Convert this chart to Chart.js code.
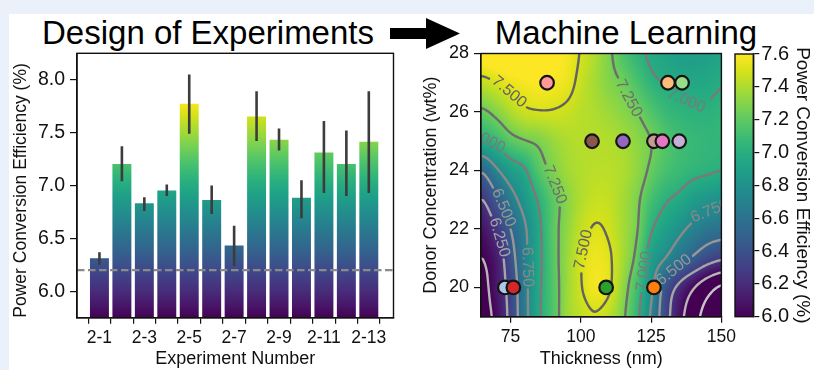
<!DOCTYPE html>
<html><head><meta charset="utf-8">
<script src="https://cdn.jsdelivr.net/npm/chart.js@4.4.1/dist/chart.umd.min.js"></script>
<style>
html,body{margin:0;padding:0;background:#eaf1fa;}
#wrap{position:relative;width:814px;height:370px;overflow:hidden;background:#eaf1fa;}
#panel{position:absolute;left:9px;top:14px;width:805px;height:356px;background:#fff;}
canvas{position:absolute;top:0;}
.ttl{position:absolute;top:16px;font-family:"Liberation Sans",Arial,sans-serif;font-size:33px;line-height:33px;color:#000;white-space:nowrap;transform:translateX(-50%);}
svg{position:absolute;left:0;top:0;}
</style></head>
<body><div id="wrap">
<div id="panel"></div>
<div class="ttl" style="left:208px">Design of Experiments</div>
<div class="ttl" style="left:626px">Machine Learning</div>
<svg width="814" height="60"><polygon points="390,28 426,28 426,18 460,33.5 426,49 426,39 390,39" fill="#000"/></svg>
<canvas id="c1" width="410" height="370" style="left:0;width:410px;height:370px"></canvas>
<canvas id="c2" width="340" height="370" style="left:400px;width:340px;height:370px"></canvas>
<canvas id="c3" width="84" height="370" style="left:730px;width:84px;height:370px"></canvas>
</div>
<script>
// ---------- data: bar chart ----------
const EXPERIMENTS = ['2-1','2-2','2-3','2-4','2-5','2-6','2-7','2-8','2-9','2-10','2-11','2-12','2-13'];
const PCE_MEAN = [6.31,7.20,6.83,6.95,7.77,6.86,6.43,7.65,7.43,6.88,7.31,7.20,7.41];
const PCE_LOW  = [6.25,7.04,6.76,6.90,7.49,6.73,6.24,7.42,7.33,6.69,6.93,6.90,6.93];
const PCE_HIGH = [6.37,7.37,6.89,7.01,8.05,7.00,6.62,7.89,7.54,7.05,7.61,7.52,7.89];
const PCE_REFERENCE = 6.2;
const BAR_Y_TICKS = [6.0,6.5,7.0,7.5,8.0];
const BAR_Y_MIN = 5.75, BAR_Y_MAX = 8.25;
const BAR_CMAP_MIN = 5.75, BAR_CMAP_MAX = 7.8;

// ---------- data: surrogate model map ----------
const GRID_X = [65,70,75,80,85,90,95,100,105,110,115,120,125,130,135,140,145,150];
const GRID_Y = [28,27,26,25,24,23,22,21,20,19];
const PCE_GRID = [
 [7.65,7.68,7.70,7.70,7.68,7.62,7.58,7.49,7.40,7.28,7.15,7.05,6.97,6.92,6.89,6.88,6.90,6.93],
 [7.45,7.50,7.55,7.58,7.60,7.58,7.55,7.46,7.38,7.30,7.24,7.14,7.04,6.99,6.96,6.95,6.96,6.99],
 [7.22,7.30,7.40,7.47,7.49,7.49,7.47,7.43,7.40,7.36,7.31,7.25,7.16,7.08,7.04,7.02,7.02,7.04],
 [6.97,7.06,7.18,7.24,7.28,7.35,7.40,7.42,7.42,7.41,7.38,7.32,7.25,7.16,7.10,7.07,7.05,7.05],
 [6.53,6.72,6.88,6.98,7.17,7.28,7.37,7.41,7.43,7.43,7.40,7.33,7.22,7.13,7.08,7.04,7.02,7.00],
 [6.25,6.45,6.66,6.84,7.02,7.19,7.31,7.41,7.46,7.45,7.38,7.28,7.12,7.02,6.96,6.88,6.83,6.80],
 [6.08,6.25,6.50,6.72,6.96,7.18,7.33,7.45,7.51,7.48,7.38,7.26,7.02,6.90,6.80,6.70,6.63,6.60],
 [6.00,6.12,6.40,6.70,6.95,7.17,7.35,7.49,7.56,7.52,7.38,7.20,6.90,6.75,6.60,6.47,6.35,6.28],
 [5.95,6.10,6.34,6.68,6.96,7.16,7.35,7.49,7.57,7.52,7.33,7.10,6.80,6.42,6.20,6.02,5.85,5.72],
 [5.95,6.05,6.32,6.67,6.97,7.15,7.36,7.44,7.49,7.43,7.28,7.05,6.72,6.35,6.08,5.85,5.65,5.50]
];
const HEAT_X_MIN = 64.5, HEAT_X_MAX = 150, HEAT_Y_MIN = 19, HEAT_Y_MAX = 28;
const HEAT_X_TICKS = [75,100,125,150];
const HEAT_Y_TICKS = [20,22,24,26,28];
const CONTOUR_LEVELS = [5.5,5.75,6.0,6.25,6.5,6.75,7.0,7.25,7.5];
const CONTOUR_COLORS = ['#d4d4d4','#c6c6c6','#b6b6b6','#a6a6a6','#979797','#898989','#7a7a7a','#6d6d6d','#626262'];
const LABEL_LEVEL = [7.5,7.25,7.0,7.0,7.25,6.5,6.25,6.75,7.5,7.0,6.5,6.75];
const LABEL_X     = [75.0,117.6,137.7,66.8,92.9,73.4,70.8,80.9,100.9,122.2,133.5,145.5];
const LABEL_Y     = [26.75,26.5,26.46,25.1,23.6,22.76,21.7,20.7,21.3,20.56,20.55,22.7];
const POINT_X = [88,131,136,104,115,126,129,135,73,76,109,126];
const POINT_Y = [27,27,27,25,25,25,25,25,20,20,20,20];
const POINT_COLORS = ['#ff9896','#ffbb78','#98df8a','#8c564b','#9467bd','#c49c94','#e377c2','#c5b0d5','#aec7e8','#d62728','#2ca02c','#ff7f0e'];
const CB_MIN = 6.0, CB_MAX = 7.6;
const CB_TICKS = [6.0,6.2,6.4,6.6,6.8,7.0,7.2,7.4,7.6];

const VIRIDIS = ['#440154','#48186a','#472d7b','#424086','#3b528b','#33638d','#2c728e','#26828e','#21918c','#1fa088','#28ae80','#3fbc73','#5ec962','#84d44b','#addc30','#d8e219','#fde725'];
const VRGB = VIRIDIS.map(h=>[parseInt(h.slice(1,3),16),parseInt(h.slice(3,5),16),parseInt(h.slice(5,7),16)]);
function viridis(t){t=Math.max(0,Math.min(1,t));const f=t*(VRGB.length-1);const i=Math.min(VRGB.length-2,Math.floor(f));const u=f-i;const a=VRGB[i],b=VRGB[i+1];return [a[0]+(b[0]-a[0])*u,a[1]+(b[1]-a[1])*u,a[2]+(b[2]-a[2])*u];}

const FONT = '"Liberation Sans", Arial, sans-serif';
Chart.defaults.font.family = FONT;
Chart.defaults.color = '#000';
Chart.defaults.animation = false;

function cr(p0,p1,p2,p3,t){return 0.5*(2*p1+(-p0+p2)*t+(2*p0-5*p1+4*p2-p3)*t*t+(-p0+3*p1-3*p2+p3)*t*t*t);}
function field(xv,yv){
  const nx=GRID_X.length, ny=GRID_Y.length;
  let gx=(xv-GRID_X[0])/(GRID_X[1]-GRID_X[0]);
  let gy=(GRID_Y[0]-yv)/(GRID_Y[0]-GRID_Y[1]);
  gx=Math.max(0,Math.min(nx-1.0001,gx)); gy=Math.max(0,Math.min(ny-1.0001,gy));
  const i=Math.floor(gx), j=Math.floor(gy), tx=gx-i, ty=gy-j;
  const g=(r,c)=>PCE_GRID[Math.max(0,Math.min(ny-1,r))][Math.max(0,Math.min(nx-1,c))];
  const rows=[];
  for(let r=-1;r<=2;r++) rows.push(cr(g(j+r,i-1),g(j+r,i),g(j+r,i+1),g(j+r,i+2),tx));
  return cr(rows[0],rows[1],rows[2],rows[3],ty);
}

const boxPlugin = {id:'box', afterDraw(chart){const {ctx,chartArea:a}=chart;ctx.save();ctx.strokeStyle='#111';ctx.lineWidth=1.4;ctx.strokeRect(a.left,a.top,a.right-a.left,a.bottom-a.top);ctx.restore();}};

function fixedTicks(arr){return function(scale){scale.ticks = arr.map(v=>({value:v}));};}

// ---------- chart 1: bars ----------
let barGrad=null;
const errPlugin = {id:'err', afterDatasetsDraw(chart){
  const {ctx,chartArea:a,scales:{x,y}}=chart;
  ctx.save();
  ctx.beginPath();ctx.rect(a.left,a.top,a.right-a.left,a.bottom-a.top);ctx.clip();
  const yr=y.getPixelForValue(PCE_REFERENCE);
  ctx.strokeStyle='#8a8a8a';ctx.lineWidth=2.2;ctx.setLineDash([7.5,3.5]);
  ctx.beginPath();ctx.moveTo(a.left,yr);ctx.lineTo(a.right,yr);ctx.stroke();
  ctx.setLineDash([]);
  ctx.strokeStyle='#3c3c3c';ctx.lineWidth=2.6;
  PCE_MEAN.forEach((m,i)=>{const px=x.getPixelForValue(i);ctx.beginPath();ctx.moveTo(px,y.getPixelForValue(PCE_LOW[i]));ctx.lineTo(px,y.getPixelForValue(PCE_HIGH[i]));ctx.stroke();});
  ctx.restore();
}};
new Chart(document.getElementById('c1'),{
  type:'bar',
  data:{datasets:[{data:PCE_MEAN.map((v,i)=>({x:i,y:v})),base:BAR_Y_MIN,barThickness:18.3,borderWidth:0,
    backgroundColor(c){const ch=c.chart;if(!ch.chartArea)return '#21918c';if(!barGrad){const ys=ch.scales.y;barGrad=ch.ctx.createLinearGradient(0,ys.getPixelForValue(BAR_CMAP_MIN),0,ys.getPixelForValue(BAR_CMAP_MAX));VIRIDIS.forEach((col,k)=>barGrad.addColorStop(k/(VIRIDIS.length-1),col));}return barGrad;}}]},
  options:{responsive:false,events:[],layout:{padding:{left:4,right:16.5,top:53.3,bottom:2}},
    plugins:{legend:{display:false},tooltip:{enabled:false}},
    scales:{
      x:{type:'linear',min:-1,max:13.1,offset:false,afterBuildTicks:fixedTicks(EXPERIMENTS.map((e,i)=>i)),afterFit(s){s.height=50.3;},
        grid:{drawOnChartArea:false,drawTicks:true,tickLength:6,color:'#111',lineWidth:1.2},border:{display:true,color:'#111',width:1.4},
        ticks:{autoSkip:false,maxRotation:0,padding:4,font:{size:17.5},color:'#111',callback:(v)=>(v%2===0?EXPERIMENTS[v]:'')},
        title:{display:true,text:'Experiment Number',font:{size:18,lineHeight:1},padding:{top:0,bottom:0},color:'#111'}},
      y:{min:BAR_Y_MIN,max:BAR_Y_MAX,afterBuildTicks:fixedTicks(BAR_Y_TICKS),afterFit(s){s.width=73;},
        grid:{drawOnChartArea:false,drawTicks:true,tickLength:7,color:'#111',lineWidth:1.2},border:{display:true,color:'#111',width:1.4},
        ticks:{padding:5,font:{size:19.5},color:'#111',callback:v=>v.toFixed(1)},
        title:{display:true,text:'Power Conversion Efficiency (%)',align:'start',font:{size:17.5,lineHeight:1},padding:{top:8,bottom:0},color:'#111'}}
    }},
  plugins:[errPlugin,boxPlugin]
});

// ---------- chart 2: map ----------
const heatPlugin = {id:'heat', beforeDatasetsDraw(chart){
  const {ctx,chartArea:a,scales:{x,y}}=chart;
  const W=Math.round(a.right-a.left), H=Math.round(a.bottom-a.top);
  const off=document.createElement('canvas');off.width=W;off.height=H;
  const octx=off.getContext('2d');const img=octx.createImageData(W,H);
  for(let j=0;j<H;j++){const yv=y.getValueForPixel(a.top+j+0.5);
    for(let i=0;i<W;i++){const xv=x.getValueForPixel(a.left+i+0.5);
      const c=viridis((field(xv,yv)-CB_MIN)/(CB_MAX-CB_MIN));const k=(j*W+i)*4;
      img.data[k]=c[0];img.data[k+1]=c[1];img.data[k+2]=c[2];img.data[k+3]=255;}}
  octx.putImageData(img,0,0);
  ctx.drawImage(off,a.left,a.top,a.right-a.left,a.bottom-a.top);
  const s=2, nI=Math.ceil(W/s)+1, nJ=Math.ceil(H/s)+1;
  const PX=i=>a.left+Math.min(i*s,a.right-a.left), PY=j=>a.top+Math.min(j*s,a.bottom-a.top);
  const F=new Float32Array(nI*nJ);
  for(let j=0;j<nJ;j++)for(let i=0;i<nI;i++)F[j*nI+i]=field(x.getValueForPixel(PX(i)),y.getValueForPixel(PY(j)));
  const fp=(X,Y)=>field(x.getValueForPixel(X),y.getValueForPixel(Y));
  ctx.save();
  ctx.font='16px '+FONT;
  const labs=LABEL_LEVEL.map((L,k)=>{
    let px=x.getPixelForValue(LABEL_X[k]), py=y.getPixelForValue(LABEL_Y[k]);let gx=0,gy=0;
    for(let it=0;it<10;it++){const f=fp(px,py)-L;gx=(fp(px+1,py)-fp(px-1,py))/2;gy=(fp(px,py+1)-fp(px,py-1))/2;const g2=gx*gx+gy*gy;if(g2<1e-12)break;let dx=f*gx/g2,dy=f*gy/g2;const d=Math.hypot(dx,dy);if(d>4){dx*=4/d;dy*=4/d;}px-=dx;py-=dy;}
    let th=Math.atan2(gx,-gy);if(th>Math.PI/2)th-=Math.PI;if(th<=-Math.PI/2)th+=Math.PI;
    const text=L.toFixed(3);const w=ctx.measureText(text).width;
    return {L,px,py,th,text,w};
  });
  ctx.beginPath();ctx.rect(a.left,a.top,a.right-a.left,a.bottom-a.top);ctx.clip();
  ctx.lineWidth=2.4;ctx.lineCap='round';ctx.lineJoin='round';
  CONTOUR_LEVELS.forEach((L,li)=>{
    const mine=labs.filter(l=>l.L===L);
    const inGap=(mx,my)=>mine.some(l=>{const dx=mx-l.px,dy=my-l.py;const u=dx*Math.cos(l.th)+dy*Math.sin(l.th);const v=-dx*Math.sin(l.th)+dy*Math.cos(l.th);return Math.abs(u)<l.w/2+3&&Math.abs(v)<12;});
    ctx.strokeStyle=CONTOUR_COLORS[li];ctx.beginPath();
    for(let j=0;j<nJ-1;j++)for(let i=0;i<nI-1;i++){
      const v0=F[j*nI+i],v1=F[j*nI+i+1],v2=F[(j+1)*nI+i+1],v3=F[(j+1)*nI+i];
      const x0=PX(i),x1=PX(i+1),y0=PY(j),y1=PY(j+1);
      const e=(va,vb,xa,ya,xb,yb)=>{if((va>L)!==(vb>L)){const t=(L-va)/(vb-va);return [xa+(xb-xa)*t,ya+(yb-ya)*t];}return null;};
      const E=[e(v0,v1,x0,y0,x1,y0),e(v1,v2,x1,y0,x1,y1),e(v2,v3,x1,y1,x0,y1),e(v3,v0,x0,y1,x0,y0)];
      const pts=E.filter(p=>p);
      let segs=[];
      if(pts.length===2)segs=[[pts[0],pts[1]]];
      else if(pts.length===4){const c=(v0+v1+v2+v3)/4;if((c>L)===(v0>L))segs=[[E[0],E[1]],[E[2],E[3]]];else segs=[[E[3],E[0]],[E[1],E[2]]];}
      segs.forEach(sg=>{const mx=(sg[0][0]+sg[1][0])/2,my=(sg[0][1]+sg[1][1])/2;if(inGap(mx,my))return;ctx.moveTo(sg[0][0],sg[0][1]);ctx.lineTo(sg[1][0],sg[1][1]);});
    }
    ctx.stroke();
  });
  ctx.textAlign='center';ctx.textBaseline='middle';
  labs.forEach(l=>{const li=CONTOUR_LEVELS.indexOf(l.L);ctx.fillStyle=CONTOUR_COLORS[li];ctx.save();ctx.translate(l.px,l.py);ctx.rotate(l.th);ctx.fillText(l.text,0,0);ctx.restore();});
  ctx.restore();
}};
new Chart(document.getElementById('c2'),{
  type:'scatter',
  data:{datasets:[{data:POINT_X.map((v,i)=>({x:v,y:POINT_Y[i]})),pointRadius:6.8,pointBackgroundColor:POINT_COLORS,pointBorderColor:'#151515',pointBorderWidth:2.2}]},
  options:{responsive:false,events:[],layout:{padding:{left:10,right:11,top:53.5,bottom:2}},
    plugins:{legend:{display:false},tooltip:{enabled:false}},
    scales:{
      x:{type:'linear',min:HEAT_X_MIN,max:HEAT_X_MAX,afterBuildTicks:fixedTicks(HEAT_X_TICKS),afterFit(s){s.height=51.3;},
        grid:{drawOnChartArea:false,drawTicks:true,tickLength:6,color:'#111',lineWidth:1.2},border:{display:true,color:'#111',width:1.4},
        ticks:{autoSkip:false,maxRotation:0,padding:4,font:{size:17.5},color:'#111'},
        title:{display:true,text:'Thickness (nm)',font:{size:18,lineHeight:1},padding:{top:0,bottom:0},color:'#111'}},
      y:{type:'linear',min:HEAT_Y_MIN,max:HEAT_Y_MAX,afterBuildTicks:fixedTicks(HEAT_Y_TICKS),afterFit(s){s.width=71;},
        grid:{drawOnChartArea:false,drawTicks:true,tickLength:7,color:'#111',lineWidth:1.2},border:{display:true,color:'#111',width:1.4},
        ticks:{padding:5,font:{size:18},color:'#111'},
        title:{display:true,text:'Donor Concentration (wt%)',font:{size:18,lineHeight:1},padding:{top:12,bottom:0},color:'#111'}}
    }},
  plugins:[heatPlugin,boxPlugin]
});

// ---------- chart 3: colorbar ----------
const cbPlugin = {id:'cb', beforeDatasetsDraw(chart){
  const {ctx,chartArea:a,scales:{y}}=chart;
  const g=ctx.createLinearGradient(0,y.getPixelForValue(CB_MIN),0,y.getPixelForValue(CB_MAX));
  VIRIDIS.forEach((col,k)=>g.addColorStop(k/(VIRIDIS.length-1),col));
  ctx.save();ctx.fillStyle=g;ctx.fillRect(a.left,a.top,a.right-a.left,a.bottom-a.top);ctx.restore();
}};
new Chart(document.getElementById('c3'),{
  type:'bar',
  data:{labels:[],datasets:[]},
  options:{responsive:false,events:[],layout:{padding:{left:5,right:0,top:54,bottom:53.3}},
    plugins:{legend:{display:false},tooltip:{enabled:false}},
    scales:{
      x:{display:false},
      y:{type:'linear',position:'right',min:CB_MIN,max:CB_MAX,afterBuildTicks:fixedTicks(CB_TICKS),afterFit(s){s.width=60.7;},
        grid:{drawOnChartArea:false,drawTicks:true,tickLength:6,color:'#111',lineWidth:1.2},border:{display:true,color:'#111',width:1.4},
        ticks:{padding:2,font:{size:20},color:'#111',callback:v=>v.toFixed(1)},
        title:{display:true,text:'Power Conversion Efficiency (%)',font:{size:19,lineHeight:1},padding:{top:2,bottom:0},color:'#111'}}
    }},
  plugins:[cbPlugin,boxPlugin]
});
</script>
</body></html>
